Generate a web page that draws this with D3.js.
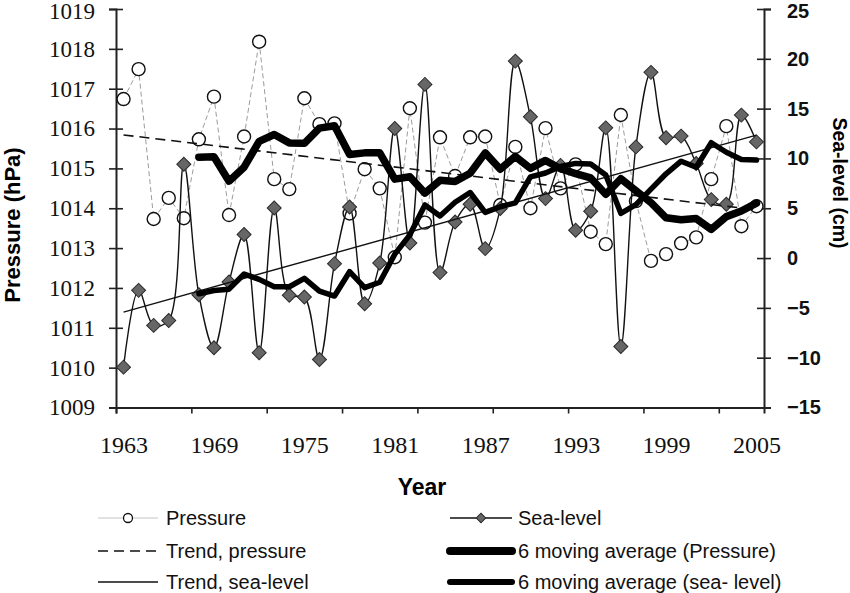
<!DOCTYPE html>
<html>
<head>
<meta charset="UTF-8">
<title>Pressure and sea-level</title>
<script src="https://d3js.org/d3.v7.min.js"></script>
<style>
  body { margin: 0; background: #fff; }
  svg { display: block; }
</style>
</head>
<body>
<svg id="chart" width="850" height="593"></svg>
<script>
// categories
const years = d3.range(1963, 2006);
const yearLabels = [1963, 1969, 1975, 1981, 1987, 1993, 1999, 2005];
const tickYears = [1962.5, 1967.5, 1972.5, 1977.5, 1982.5, 1987.5, 1992.5, 1997.5, 2002.5];

// annual values, 1963-2005
const pressure = [
  1016.74, 1017.49, 1013.73, 1014.26, 1013.75, 1015.73, 1016.80, 1013.83, 1015.80, 1018.18,
  1014.73, 1014.48, 1016.76, 1016.11, 1016.13, 1013.87, 1014.98, 1014.50, 1012.77, 1016.51,
  1013.64, 1015.78, 1014.81, 1015.78, 1015.80, 1014.08, 1015.54, 1014.00, 1016.01, 1014.50,
  1015.10, 1013.41, 1013.10, 1016.34, 1014.18, 1012.68, 1012.85, 1013.12, 1013.27, 1014.73,
  1016.06, 1013.55, 1014.05
];
const seaLevel = [
  -10.95, -3.24, -6.76, -6.26, 9.42, -3.68, -9.00, -2.41, 2.36, -9.50,
  5.03, -3.74, -3.91, -10.18, -0.56, 5.13, -4.58, -0.50, 13.00, 1.51,
  17.43, -1.46, 3.62, 5.40, 0.95, 4.97, 19.77, 14.18, 5.97, 9.30,
  2.79, 4.70, 13.07, -8.87, 11.16, 18.64, 12.07, 12.24, 9.49, 5.87,
  5.40, 14.35, 11.66
];

// 6 moving averages, 1968-2005
const maYears = d3.range(1968, 2006);
const maPressure = [
  1015.28, 1015.29, 1014.68, 1015.03, 1015.68, 1015.85, 1015.64, 1015.63, 1016.01, 1016.07,
  1015.35, 1015.39, 1015.39, 1014.73, 1014.79, 1014.38, 1014.70, 1014.67, 1014.88, 1015.39,
  1014.98, 1015.30, 1015.00, 1015.20, 1014.99, 1014.87, 1014.76, 1014.35, 1014.74, 1014.44,
  1014.14, 1013.76, 1013.71, 1013.74, 1013.47, 1013.79, 1013.93, 1014.13
];
const maSeaLevel = [
  -3.58, -3.25, -3.12, -1.60, -2.14, -2.87, -2.88, -2.03, -3.32, -3.81,
  -1.37, -2.97, -2.43, 0.39, 2.33, 5.33, 4.23, 5.60, 6.58, 4.58,
  5.15, 5.54, 8.15, 8.54, 9.19, 9.50, 9.45, 8.34, 4.49, 5.37,
  6.92, 8.46, 9.72, 9.12, 11.58, 10.62, 9.90, 9.84
];

// linear trends (end points)
const trendYears = [1963, 2005];
const trendPressure = [1015.84, 1013.96];
const trendSeaLevel = [-5.42, 12.34];

const pressureTicks = [1009, 1010, 1011, 1012, 1013, 1014, 1015, 1016, 1017, 1018, 1019];
const seaTicks = [-15, -10, -5, 0, 5, 10, 15, 20, 25];
const legendLabels = ["Pressure", "Trend, pressure", "Trend, sea-level",
                      "Sea-level", "6 moving average (Pressure)", "6 moving average (sea- level)"];

const serif = '"Liberation Serif", "Times New Roman", serif';
const sans = '"Liberation Sans", Arial, sans-serif';

const svg = d3.select("#chart");

const x = d3.scaleLinear().domain([1962.5, 2005.5]).range([116, 764]);
const yP = d3.scaleLinear().domain([1009, 1019]).range([407.5, 9]);
const yS = d3.scaleLinear().domain([-15, 25]).range([407.5, 9]);

// axes
const left = svg.append("g")
  .attr("transform", "translate(116,0)")
  .call(d3.axisLeft(yP).tickValues(pressureTicks).tickSize(7).tickPadding(14).tickFormat(d3.format("d")));
left.selectAll(".tick line").attr("x1", 7);
left.selectAll("text").attr("font-family", serif).attr("font-size", 23).attr("fill", "#111")
  .attr("dy", d => d === 1019 ? "0.4em" : "0.32em");

const right = svg.append("g")
  .attr("transform", "translate(764,0)")
  .call(d3.axisRight(yS).tickValues(seaTicks).tickSize(7).tickPadding(16));
right.selectAll(".tick line").attr("x1", -7);
right.selectAll("text").attr("font-family", sans).attr("font-size", 20)
  .attr("font-weight", "bold").attr("fill", "#111")
  .attr("dy", d => d === 25 ? "0.42em" : "0.32em");

const bottom = svg.append("g")
  .attr("transform", "translate(0,407.5)")
  .call(d3.axisBottom(x).tickValues(tickYears).tickSize(6).tickFormat(""));

const bottomLabels = svg.append("g")
  .attr("transform", "translate(0,407.5)")
  .call(d3.axisBottom(x).tickValues(yearLabels).tickSize(0).tickPadding(28).tickFormat(d3.format("d")));
bottomLabels.select(".domain").remove();
bottomLabels.selectAll("text").attr("font-family", serif).attr("font-size", 24).attr("fill", "#111");

svg.selectAll(".domain").attr("stroke", "#222").attr("stroke-width", 2);
svg.selectAll(".tick line").attr("stroke", "#222").attr("stroke-width", 1.6);

// pressure series
const pLine = d3.line().x((d, i) => x(years[i])).y(d => yP(d));
svg.append("path").datum(pressure)
  .attr("d", pLine).attr("fill", "none")
  .attr("stroke", "#9c9c9c").attr("stroke-width", 1).attr("stroke-dasharray", "5,3");

svg.append("g").selectAll("circle").data(pressure).join("circle")
  .attr("cx", (d, i) => x(years[i])).attr("cy", d => yP(d)).attr("r", 6.5)
  .attr("fill", "#fff").attr("stroke", "#111").attr("stroke-width", 1.4);

// sea-level series
const sLine = d3.line().curve(d3.curveCatmullRom.alpha(0.5))
  .x((d, i) => x(years[i])).y(d => yS(d));
svg.append("path").datum(seaLevel)
  .attr("d", sLine).attr("fill", "none")
  .attr("stroke", "#111").attr("stroke-width", 1.4);

const diamond = d3.symbol(d3.symbolSquare, 98);
svg.append("g").selectAll("path").data(seaLevel).join("path")
  .attr("d", diamond)
  .attr("transform", (d, i) => `translate(${x(years[i])},${yS(d)}) rotate(45)`)
  .attr("fill", "#666").attr("stroke", "#2a2a2a").attr("stroke-width", 1);

// trends
svg.append("path").datum(trendPressure)
  .attr("d", d3.line().x((d, i) => x(trendYears[i])).y(d => yP(d)))
  .attr("fill", "none").attr("stroke", "#111").attr("stroke-width", 1.6)
  .attr("stroke-dasharray", "10,6");
svg.append("path").datum(trendSeaLevel)
  .attr("d", d3.line().x((d, i) => x(trendYears[i])).y(d => yS(d)))
  .attr("fill", "none").attr("stroke", "#111").attr("stroke-width", 1.4);

// moving averages
svg.append("path").datum(maPressure)
  .attr("d", d3.line().x((d, i) => x(maYears[i])).y(d => yP(d)))
  .attr("fill", "none").attr("stroke", "#000").attr("stroke-width", 7.5)
  .attr("stroke-linejoin", "round").attr("stroke-linecap", "round");
svg.append("path").datum(maSeaLevel)
  .attr("d", d3.line().x((d, i) => x(maYears[i])).y(d => yS(d)))
  .attr("fill", "none").attr("stroke", "#000").attr("stroke-width", 5.5)
  .attr("stroke-linejoin", "round").attr("stroke-linecap", "round");

// axis titles
svg.append("text").attr("x", 422).attr("y", 495).attr("text-anchor", "middle")
  .attr("font-family", sans).attr("font-weight", "bold").attr("font-size", 23)
  .text("Year");
svg.append("text").attr("transform", "translate(20,225) rotate(-90)")
  .attr("text-anchor", "middle")
  .attr("font-family", sans).attr("font-weight", "bold").attr("font-size", 22)
  .text("Pressure (hPa)");
svg.append("text").attr("transform", "translate(833,183) rotate(90)")
  .attr("text-anchor", "middle")
  .attr("font-family", sans).attr("font-weight", "bold").attr("font-size", 19.5)
  .text("Sea-level (cm)");

// legend
const rowY = [518, 551, 582];
const lg = svg.append("g");
legendLabels.forEach((label, k) => {
  const col = Math.floor(k / 3), row = k % 3;
  const x0 = col === 0 ? 98 : 450, x1 = col === 0 ? 158 : 512;
  const tx = col === 0 ? 166 : 518;
  const y = rowY[row];
  const ln = lg.append("line").attr("x1", x0).attr("x2", x1).attr("y1", y).attr("y2", y);
  if (k === 0) ln.attr("stroke", "#c4c4c4").attr("stroke-width", 1);
  if (k === 1) ln.attr("stroke", "#111").attr("stroke-width", 1.6).attr("stroke-dasharray", "10,6");
  if (k === 2) ln.attr("stroke", "#111").attr("stroke-width", 1.4);
  if (k === 3) ln.attr("stroke", "#111").attr("stroke-width", 1.4);
  if (k === 4) ln.attr("stroke", "#000").attr("stroke-width", 8).attr("stroke-linecap", "round");
  if (k === 5) ln.attr("stroke", "#000").attr("stroke-width", 6).attr("stroke-linecap", "round");
  if (k === 0) lg.append("circle").attr("cx", (x0 + x1) / 2).attr("cy", y).attr("r", 4.5)
    .attr("fill", "#fff").attr("stroke", "#111").attr("stroke-width", 1.3);
  if (k === 3) lg.append("path").attr("d", d3.symbol(d3.symbolSquare, 45))
    .attr("transform", `translate(${(x0 + x1) / 2},${y}) rotate(45)`)
    .attr("fill", "#666").attr("stroke", "#2a2a2a").attr("stroke-width", 1);
  lg.append("text").attr("x", tx).attr("y", y).attr("dy", "0.35em")
    .attr("font-family", sans).attr("font-size", 20).attr("fill", "#111")
    .text(label);
});
</script>
</body>
</html>
